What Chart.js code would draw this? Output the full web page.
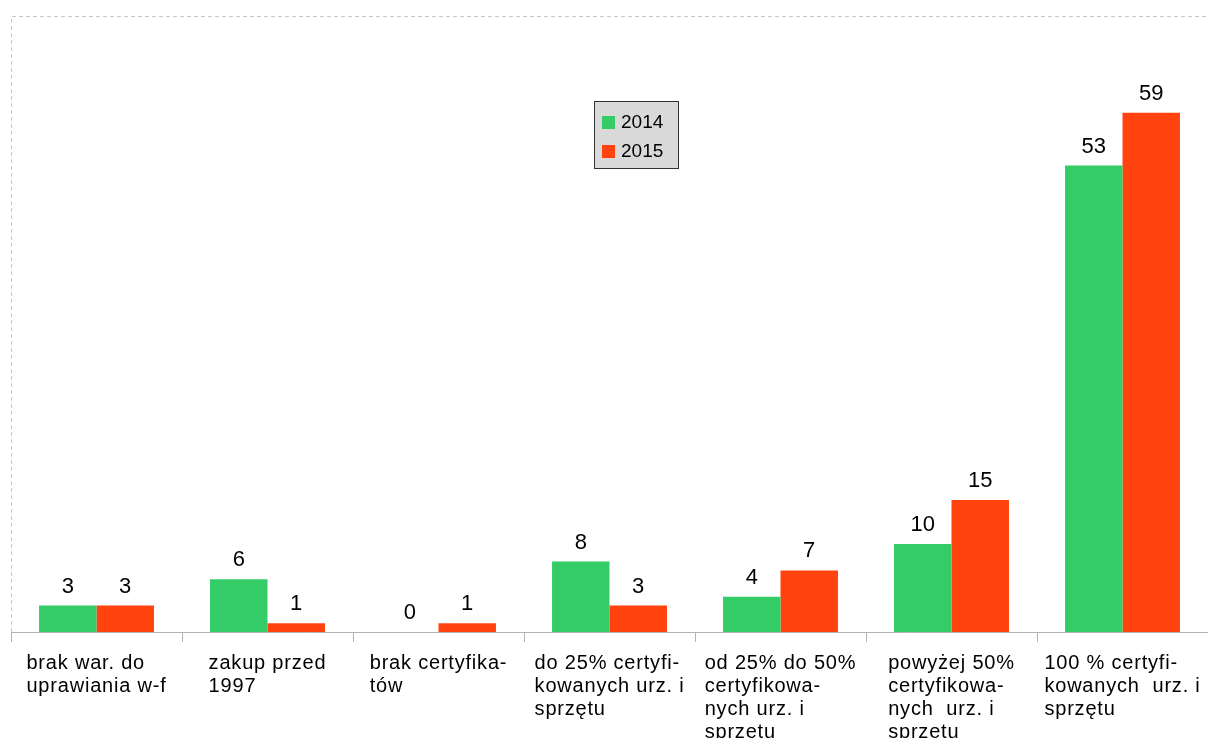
<!DOCTYPE html>
<html>
<head>
<meta charset="utf-8">
<script src="https://cdn.jsdelivr.net/npm/chart.js@4/dist/chart.umd.min.js"></script>
<style>
  html, body { margin: 0; padding: 0; background: #fff; }
  #wrap { width: 1208px; height: 738px; }
</style>
</head>
<body>
<div id="wrap"><canvas id="myChart"></canvas></div>
<script>
// Data
const categories = [
  ["brak war. do", "uprawiania w-f"],
  ["zakup przed", "1997"],
  ["brak certyfika-", "tów"],
  ["do 25% certyfi-", "kowanych urz. i", "sprzętu"],
  ["od 25% do 50%", "certyfikowa-", "nych urz. i", "sprzętu"],
  ["powyżej 50%", "certyfikowa-", "nych  urz. i", "sprzętu"],
  ["100 % certyfi-", "kowanych  urz. i", "sprzętu"]
];
const values2014 = [3, 6, 0, 8, 4, 10, 53];
const values2015 = [3, 1, 1, 3, 7, 15, 59];
const seriesNames = ["2014", "2015"];
const seriesColors = ["#33cc66", "#ff420e"];

const fontFamily = "'Liberation Sans', Arial, sans-serif";

// Dashed frame round the plot area
const framePlugin = {
  id: 'frame',
  beforeDraw(chart) {
    const {ctx, chartArea} = chart;
    ctx.save();
    ctx.strokeStyle = '#c8c8c8';
    ctx.lineWidth = 1;
    ctx.setLineDash([4, 3]);
    ctx.beginPath();
    ctx.moveTo(chartArea.left + 0.5, chartArea.bottom);
    ctx.lineTo(chartArea.left + 0.5, chartArea.top + 0.5);
    ctx.lineTo(chartArea.right, chartArea.top + 0.5);
    ctx.stroke();
    ctx.restore();
  }
};

// Values above bars
const valueLabelsPlugin = {
  id: 'valueLabels',
  afterDatasetsDraw(chart) {
    const ctx = chart.ctx;
    ctx.save();
    ctx.font = '22px ' + fontFamily;
    ctx.fillStyle = '#000';
    ctx.textAlign = 'center';
    ctx.textBaseline = 'alphabetic';
    chart.data.datasets.forEach(function(dataset, i) {
      const meta = chart.getDatasetMeta(i);
      meta.data.forEach(function(bar, j) {
        ctx.fillText(dataset.data[j], bar.x, bar.y - 13);
      });
    });
    ctx.restore();
  }
};

// Category labels: block centred under the group, lines left aligned
const categoryLabelsPlugin = {
  id: 'categoryLabels',
  afterDraw(chart) {
    const ctx = chart.ctx;
    const xScale = chart.scales.x;
    ctx.save();
    ctx.font = '20px ' + fontFamily;
    ctx.letterSpacing = '0.8px';
    ctx.fillStyle = '#000';
    ctx.textAlign = 'left';
    ctx.textBaseline = 'alphabetic';
    chart.data.labels.forEach(function(lines, i) {
      const center = xScale.getPixelForValue(i);
      let maxW = 0;
      lines.forEach(function(line) {
        maxW = Math.max(maxW, ctx.measureText(line).width);
      });
      lines.forEach(function(line, k) {
        ctx.fillText(line, center - maxW / 2, xScale.top + 37 + k * 23);
      });
    });
    ctx.restore();
  }
};

// Legend box inside the plot
const boxLegendPlugin = {
  id: 'boxLegend',
  afterDraw(chart) {
    const ctx = chart.ctx;
    const x = 594, y = 101, w = 84, h = 67;
    ctx.save();
    ctx.fillStyle = '#d9d9d9';
    ctx.fillRect(x, y, w, h);
    ctx.strokeStyle = '#333';
    ctx.lineWidth = 1;
    ctx.strokeRect(x + 0.5, y + 0.5, w, h);
    ctx.font = '19px ' + fontFamily;
    ctx.textBaseline = 'middle';
    chart.data.datasets.forEach(function(dataset, i) {
      const rowY = y + 21 + i * 29;
      ctx.fillStyle = dataset.backgroundColor;
      ctx.fillRect(x + 8, rowY - 6, 13, 13);
      ctx.fillStyle = '#000';
      ctx.fillText(dataset.label, x + 27, rowY + 1);
    });
    ctx.restore();
  }
};

const ctx = document.querySelector('#myChart').getContext('2d');
const myChart = new Chart(ctx, {
  type: 'bar',
  data: {
    labels: categories,
    datasets: [
      { label: seriesNames[0], data: values2014, backgroundColor: seriesColors[0] },
      { label: seriesNames[1], data: values2015, backgroundColor: seriesColors[1] }
    ]
  },
  options: {
    responsive: true,
    maintainAspectRatio: false,
    animation: false,
    layout: { padding: { left: 11, top: 16, right: -3, bottom: 0 } },
    datasets: {
      bar: { categoryPercentage: 0.672, barPercentage: 1.0 }
    },
    plugins: {
      legend: { display: false },
      tooltip: { enabled: false }
    },
    scales: {
      x: {
        offset: true,
        afterFit: function(scale) {
          scale.height = 106;
          scale.paddingLeft = 0;
          scale.paddingRight = 0;
        },
        grid: {
          offset: true,
          drawOnChartArea: false,
          drawTicks: true,
          tickLength: 10,
          color: '#b3b3b3'
        },
        border: { color: '#b3b3b3', dash: [4, 2] },
        ticks: { display: false }
      },
      y: {
        display: false,
        min: 0,
        max: 70
      }
    }
  },
  plugins: [framePlugin, valueLabelsPlugin, categoryLabelsPlugin, boxLegendPlugin]
});
</script>
</body>
</html>
